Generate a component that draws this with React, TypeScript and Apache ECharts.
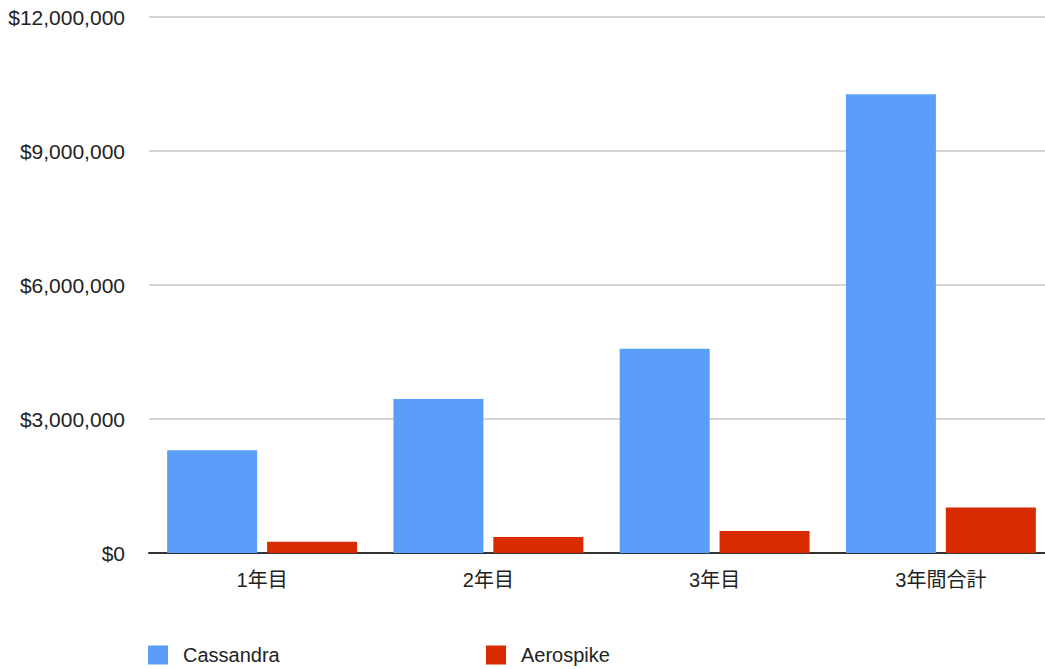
import React, { useEffect, useRef } from "react";
import * as echarts from "echarts";

const categories = ["1年目", "2年目", "3年目", "3年間合計"];
const cassandra = [2300000, 3450000, 4570000, 10270000];
const aerospike = [250000, 360000, 490000, 1020000];
const seriesNames = ["Cassandra", "Aerospike"];

const FONT = "'Liberation Sans', Arial, 'Noto Sans CJK JP', sans-serif";

export default function App() {
  const ref = useRef<HTMLDivElement>(null);
  useEffect(() => {
    if (!ref.current) return;
    const chart = echarts.init(ref.current, null, { renderer: "svg" });
    const legendBase = {
      top: 645,
      padding: 0,
      itemWidth: 20,
      itemHeight: 19,
      icon: "rect",
      textStyle: { fontSize: 20, color: "#222", fontFamily: FONT, padding: [0, 0, 0, 10] },
    };
    chart.setOption({
      animation: false,
      backgroundColor: "#ffffff",
      textStyle: { fontFamily: FONT },
      grid: { left: 149, top: 17, width: 905, height: 536, containLabel: false },
      legend: [
        { ...legendBase, data: [seriesNames[0]], left: 148 },
        { ...legendBase, data: [seriesNames[1]], left: 486 },
      ],
      xAxis: {
        type: "category",
        data: categories,
        axisLine: { show: true, lineStyle: { color: "#333", width: 2 } },
        axisTick: { show: false },
        axisLabel: { fontSize: 20, color: "#222", margin: 17, fontFamily: FONT },
      },
      yAxis: {
        type: "value",
        min: 0,
        max: 12000000,
        interval: 3000000,
        axisLine: { show: false },
        axisTick: { show: false },
        splitLine: { lineStyle: { color: "#c8c8c8", width: 1.5 } },
        axisLabel: {
          fontSize: 21,
          color: "#222",
          margin: 24,
          fontFamily: FONT,
          formatter: (v: number) => "$" + v.toLocaleString("en-US"),
        },
      },
      series: [
        {
          name: seriesNames[0],
          type: "bar",
          data: cassandra,
          barWidth: 90,
          barGap: "11%",
          itemStyle: { color: "#5a9ef9" },
        },
        {
          name: seriesNames[1],
          type: "bar",
          data: aerospike,
          barWidth: 90,
          barGap: "11%",
          itemStyle: { color: "#d92b00" },
        },
      ],
    });
    return () => chart.dispose();
  }, []);
  return (
    <div
      style={{
        position: "fixed",
        left: 0,
        top: 0,
        width: 1045,
        height: 669,
        overflow: "hidden",
        background: "#fff",
      }}
    >
      <div ref={ref} style={{ width: 1060, height: 669 }} />
    </div>
  );
}
